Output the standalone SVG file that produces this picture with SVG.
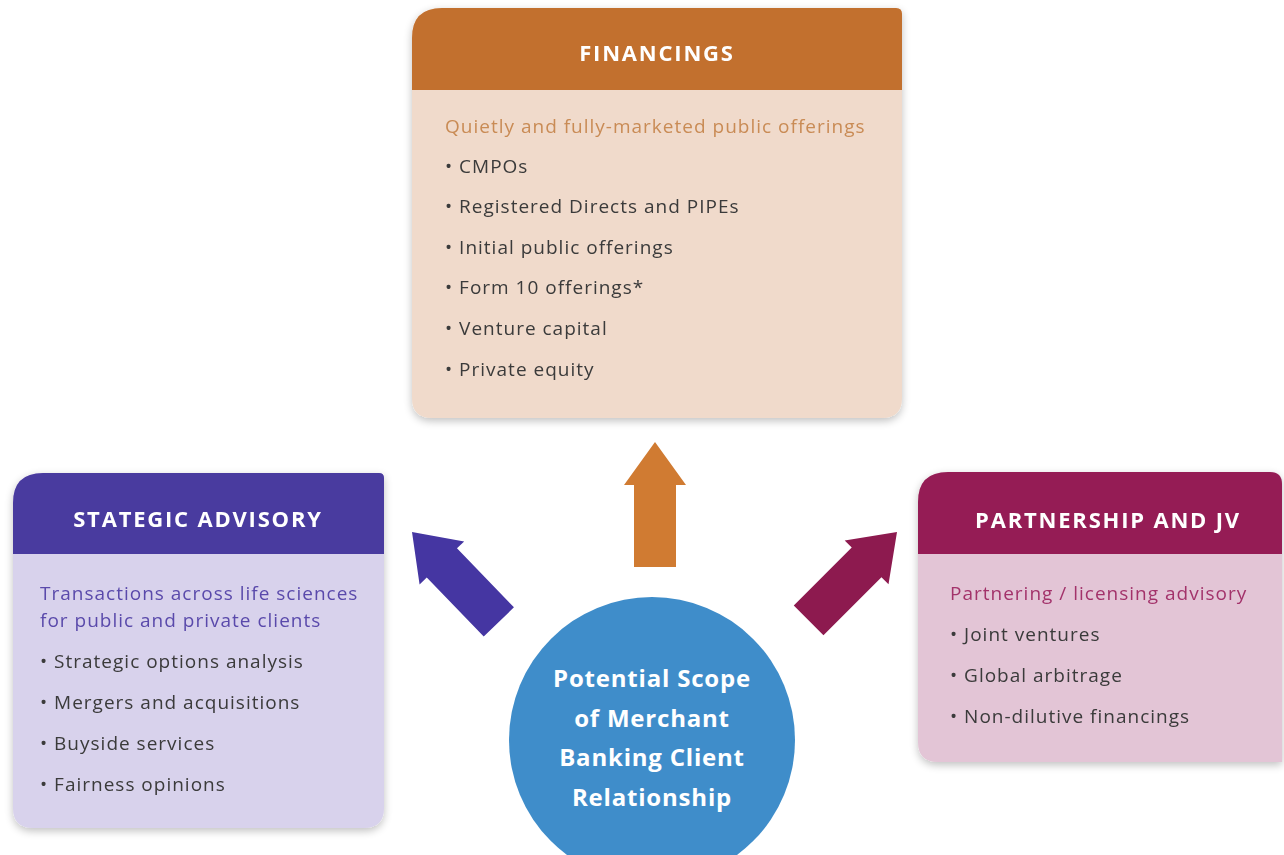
<svg xmlns="http://www.w3.org/2000/svg" width="1284" height="855" viewBox="0 0 1284 855">
<defs>
<filter id="sh" x="-10%" y="-10%" width="120%" height="120%">
<feGaussianBlur in="SourceAlpha" stdDeviation="4"/>
<feOffset dx="0" dy="3"/>
<feComponentTransfer><feFuncA type="linear" slope="0.25"/></feComponentTransfer>
<feMerge><feMergeNode/><feMergeNode in="SourceGraphic"/></feMerge>
</filter>
<path id="arr" d="M0,0 L31,43 L21,43 L21,125 L-21,125 L-21,43 L-31,43 Z"/>
</defs>
<style>
text{font-family:"Open Sans","Liberation Sans",sans-serif}
.hd{font-size:22px;font-weight:bold;fill:#ffffff;text-anchor:middle;letter-spacing:1.8px}
.it{font-size:19px;fill:#3a3a3a;letter-spacing:1px}
.sub{font-size:19px;letter-spacing:1px}
.ct{font-size:24px;font-weight:bold;fill:#ffffff;text-anchor:middle;letter-spacing:0.8px}
</style>
<rect width="1284" height="855" fill="#ffffff"/>

<g id="financings" filter="url(#sh)">
<path d="M442,8 L896,8 Q902,8 902,14 L902,398 Q902,418 882,418 L432,418 Q412,418 412,398 L412,38 Q412,8 442,8 Z" fill="#f0dacb"/>
<path d="M442,8 L896,8 Q902,8 902,14 L902,90 L412,90 L412,38 Q412,8 442,8 Z" fill="#c2702e"/>
<text class="hd" x="657" y="61">FINANCINGS</text>
<text class="sub" x="445" y="133" fill="#c98b55">Quietly and fully-marketed public offerings</text>
<text class="it" x="445" y="173">• CMPOs</text>
<text class="it" x="445" y="213">• Registered Directs and PIPEs</text>
<text class="it" x="445" y="254">• Initial public offerings</text>
<text class="it" x="445" y="294">• Form 10 offerings*</text>
<text class="it" x="445" y="335">• Venture capital</text>
<text class="it" x="445" y="376">• Private equity</text>
</g>

<g id="strategic" filter="url(#sh)">
<path d="M43,473 L379,473 Q384,473 384,478 L384,808 Q384,828 364,828 L33,828 Q13,828 13,808 L13,503 Q13,473 43,473 Z" fill="#d8d2ec"/>
<path d="M43,473 L379,473 Q384,473 384,478 L384,554 L13,554 L13,503 Q13,473 43,473 Z" fill="#4a3a9f"/>
<text class="hd" x="198" y="527">STATEGIC ADVISORY</text>
<text class="sub" x="40" y="600" fill="#5a4aab">Transactions across life sciences</text>
<text class="sub" x="40" y="627" fill="#5a4aab">for public and private clients</text>
<text class="it" x="40" y="668">• Strategic options analysis</text>
<text class="it" x="40" y="709">• Mergers and acquisitions</text>
<text class="it" x="40" y="750">• Buyside services</text>
<text class="it" x="40" y="791">• Fairness opinions</text>
</g>

<g id="partnership" filter="url(#sh)">
<path d="M948,472 L1270,472 Q1282,472 1282,484 L1282,762 L938,762 Q918,762 918,742 L918,502 Q918,472 948,472 Z" fill="#e3c5d6"/>
<path d="M948,472 L1270,472 Q1282,472 1282,484 L1282,554 L918,554 L918,502 Q918,472 948,472 Z" fill="#951f55"/>
<text class="hd" x="1108" y="528">PARTNERSHIP AND JV</text>
<text class="sub" x="950" y="600" fill="#a3336b">Partnering / licensing advisory</text>
<text class="it" x="950" y="641">• Joint ventures</text>
<text class="it" x="950" y="682">• Global arbitrage</text>
<text class="it" x="950" y="723">• Non-dilutive financings</text>
</g>

<g id="connectors">
<use href="#arr" transform="translate(655,442)" fill="#d07b32"/>
<use href="#arr" transform="translate(412,532) rotate(-44)" fill="#4536a2"/>
<use href="#arr" transform="translate(897,532) rotate(45)" fill="#8d1a4f"/>
</g>

<g id="center">
<circle cx="652" cy="740" r="143" fill="#3f8dca"/>
<text class="ct" x="652" y="687">Potential Scope</text>
<text class="ct" x="652" y="727">of Merchant</text>
<text class="ct" x="652" y="766">Banking Client</text>
<text class="ct" x="652" y="806">Relationship</text>
</g>
</svg>
